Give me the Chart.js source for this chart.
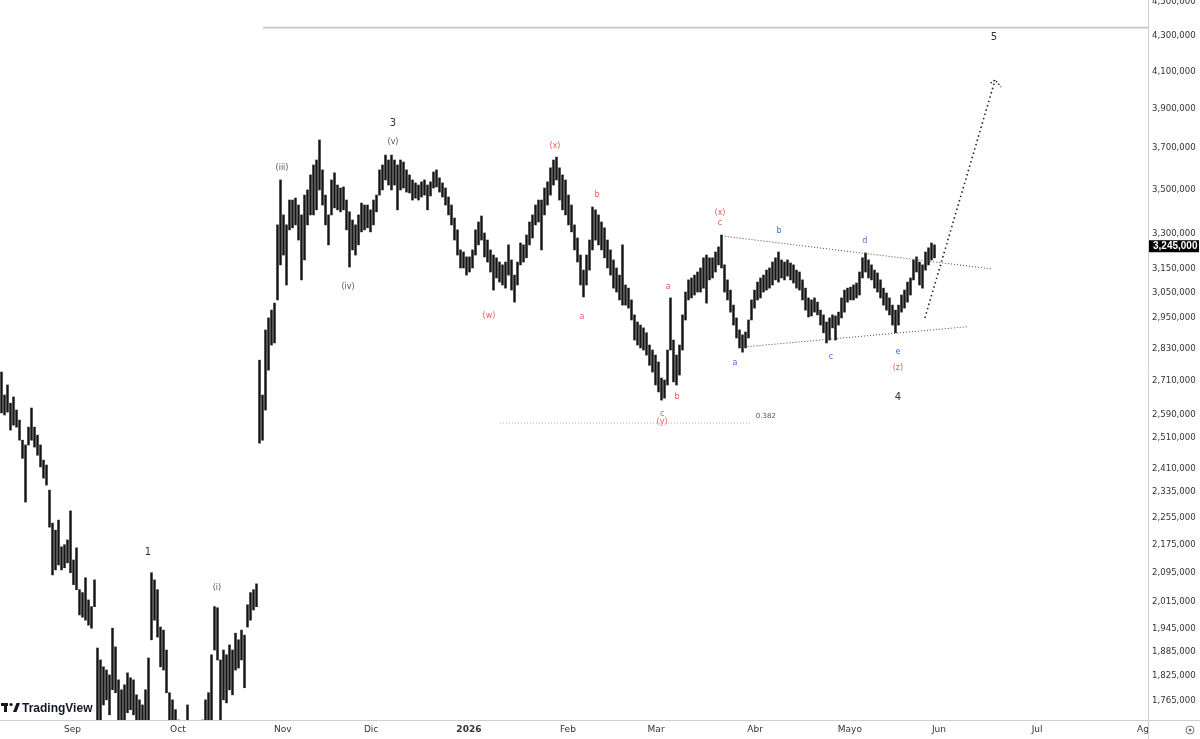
<!DOCTYPE html>
<html>
<head>
<meta charset="utf-8">
<title>Elliott wave count</title>
<script src="https://cdn.jsdelivr.net/npm/chart.js@4.4.1/dist/chart.umd.min.js"></script>
<style>
  html, body { margin: 0; padding: 0; background: #fff; }
  #wrap { width: 1200px; height: 739px; position: relative; }
</style>
</head>
<body>
<div id="wrap"><canvas id="chart"></canvas></div>
<script>
// bar highs / lows in thousands, one bar per slot
const priceHigh = [
  2742, 2659, 2695, 2630, 2652, 2606, 2571, 2503, 2487, 2547,
  2613, 2547, 2520, 2487, 2437, 2421, 2341, 2240, 2219, 2249,
  2170, 2176, 2190, 2277, 2132, 2167, 2049, 2041, 2082, 2021,
  2003, 2076, 1895, 1865, 1848, 1840, 1828, 1946, 1898, 1816,
  1792, 1804, 1833, 1821, 1816, 1780, 1768, 1756, 1792, 1870,
  2096, 2076, 2049, 1949, 1941, 1890, 1785, 1768, 1745, 1721,
  1698, 1710, 1756, 1687, 1665, 1698, 1710, 1721, 1768, 1785,
  1878, 2003, 2000, 1865, 1890, 1878, 1903, 1890, 1933, 1916,
  1941, 1928, 2008, 2041, 2049, 2065, 2786, 2659, 2901, 2948,
  2979, 3007, 3339, 3546, 3384, 3339, 3452, 3452, 3461, 3429,
  3384, 3475, 3499, 3570, 3618, 3642, 3741, 3594, 3475, 3384,
  3546, 3580, 3522, 3508, 3513, 3452, 3398, 3361, 3339, 3384,
  3438, 3429, 3429, 3407, 3452, 3475, 3594, 3618, 3666, 3642,
  3666, 3642, 3618, 3642, 3632, 3594, 3570, 3546, 3532, 3522,
  3537, 3546, 3522, 3537, 3584, 3594, 3556, 3532, 3508, 3466,
  3429, 3370, 3317, 3229, 3220, 3199, 3199, 3229, 3317, 3352,
  3379, 3303, 3272, 3229, 3207, 3195, 3177, 3165, 3177, 3251,
  3186, 3122, 3177, 3259, 3251, 3294, 3352, 3384, 3429, 3452,
  3452, 3508, 3537, 3604, 3642, 3656, 3604, 3570, 3546, 3475,
  3429, 3339, 3281, 3207, 3143, 3207, 3272, 3420, 3407, 3384,
  3352, 3326, 3272, 3229, 3186, 3152, 3122, 3251, 3081, 3068,
  3020, 2960, 2932, 2920, 2909, 2890, 2843, 2824, 2805, 2779,
  2720, 2713, 2824, 3028, 2862, 2805, 2843, 2960, 3052, 3102,
  3110, 3122, 3135, 3152, 3195, 3207, 3195, 3195, 3220, 3242,
  3294, 3165, 3102, 3060, 2999, 2948, 2901, 2882, 2893, 2940,
  3020, 3060, 3093, 3110, 3122, 3143, 3152, 3177, 3195, 3220,
  3186, 3177, 3186, 3173, 3165, 3143, 3135, 3102, 3068, 3028,
  3020, 3028, 3011, 2979, 2960, 2932, 2948, 2960, 2956, 2971,
  3028, 3060, 3068, 3072, 3081, 3089, 3135, 3195, 3216, 3186,
  3165, 3143, 3131, 3102, 3068, 3048, 3028, 2999, 2979, 2999,
  3040, 3060, 3093, 3110, 3186, 3199, 3177, 3165, 3220, 3238,
  3259, 3251
];
const priceLow = [
  2596, 2589, 2599, 2537, 2554, 2547, 2503, 2443, 2304, 2487,
  2503, 2480, 2453, 2415, 2379, 2357, 2228, 2090, 2104, 2118,
  2104, 2110, 2124, 2096, 2063, 2049, 1981, 1975, 1967, 1954,
  1946, 2003, 1676, 1721, 1756, 1768, 1733, 1792, 1785, 1721,
  1698, 1710, 1738, 1745, 1733, 1687, 1676, 1665, 1676, 1721,
  1916, 1967, 1923, 1848, 1840, 1785, 1698, 1676, 1632, 1611,
  1590, 1611, 1643, 1590, 1569, 1600, 1611, 1621, 1654, 1698,
  1721, 1890, 1865, 1721, 1768, 1761, 1792, 1780, 1840, 1845,
  1865, 1797, 1949, 1967, 1994, 2003, 2493, 2503, 2606, 2749,
  2843, 2851, 3020, 3165, 3207, 3081, 3317, 3326, 3339, 3272,
  3102, 3186, 3339, 3384, 3384, 3407, 3499, 3429, 3339, 3251,
  3384, 3416, 3407, 3398, 3407, 3317, 3156, 3229, 3207, 3251,
  3308, 3317, 3326, 3308, 3339, 3398, 3475, 3499, 3546, 3522,
  3499, 3522, 3407, 3499, 3508, 3489, 3485, 3452, 3461, 3452,
  3466, 3475, 3407, 3471, 3508, 3513, 3489, 3466, 3429, 3384,
  3339, 3272, 3207, 3152, 3152, 3122, 3135, 3152, 3207, 3251,
  3272, 3199, 3177, 3135, 3060, 3110, 3093, 3081, 3068, 3122,
  3060, 3011, 3081, 3165, 3177, 3195, 3251, 3281, 3339, 3352,
  3229, 3384, 3429, 3475, 3522, 3546, 3452, 3407, 3384, 3339,
  3308, 3229, 3177, 3081, 3032, 3081, 3143, 3229, 3272, 3251,
  3229, 3195, 3152, 3122, 3068, 3052, 3020, 2999, 2999, 2987,
  2940, 2862, 2843, 2832, 2824, 2805, 2767, 2742, 2695, 2670,
  2641, 2648, 2695, 2824, 2706, 2695, 2731, 2824, 2940, 3020,
  3028, 3040, 3052, 3052, 3068, 3007, 3102, 3110, 3135, 3165,
  3152, 3052, 3020, 2971, 2920, 2870, 2832, 2816, 2832, 2870,
  2940, 2987, 3020, 3028, 3052, 3060, 3068, 3081, 3102, 3093,
  3110, 3102, 3118, 3102, 3089, 3068, 3060, 3020, 2979, 2952,
  2956, 2971, 2960, 2920, 2890, 2851, 2862, 2909, 2862, 2920,
  2948, 2971, 3011, 3020, 3020, 3028, 3040, 3110, 3135, 3110,
  3102, 3068, 3052, 3028, 2999, 2979, 2960, 2920, 2890, 2920,
  2971, 2987, 3011, 3040, 3102, 3135, 3081, 3068, 3143, 3165,
  3186, 3195
];
const lastPrice = 3245;

// time axis (bar slots) and price axis ticks
const monthLabels = ['Sep', 'Oct', 'Nov', 'Dic', '2026', 'Feb', 'Mar', 'Abr', 'Mayo', 'Jun', 'Jul', 'Ag'];
const monthPos = [23.7, 58.8, 93.8, 123.2, 155.8, 188.8, 218.2, 251.2, 282.8, 312.5, 345.2, 380.5];
const yTicks = [4500, 4300, 4100, 3900, 3700, 3500, 3300, 3150, 3050, 2950, 2830, 2710, 2590,
  2510, 2410, 2335, 2255, 2175, 2095, 2015, 1945, 1885, 1825, 1765];

// drawings: [slot, price in thousands]
const topRay = [[87.2, 4348], [382.2, 4348]];
const triangleUpper = [[240.1, 3290], [330.1, 3148]];
const triangleLower = [[246.7, 2835], [322.3, 2914]];
const projection = [[307.8, 2948], [331.2, 4054]];
const projectionHead = [[329.7, 4037], [331.2, 4054], [333.2, 4016]];
const fibLine = [[166.2, 2561], [250.2, 2561]];

const RED = '#ef5b5b', BLUE = '#3d6fe0', DARK = '#333333', GRAY = '#555555';
const waveLabels = [
  ['1', 48.8, 2153, DARK, 10], ['(i)', 71.8, 2055, GRAY, 8],
  ['(iii)', 93.5, 3604, GRAY, 8], ['(iv)', 115.5, 3073, GRAY, 8],
  ['3', 130.5, 3827, DARK, 10], ['(v)', 130.5, 3731, GRAY, 8],
  ['(w)', 162.5, 2956, RED, 8], ['(x)', 184.5, 3711, RED, 8],
  ['b', 198.5, 3475, RED, 8], ['a', 193.5, 2952, RED, 8],
  ['a', 222.2, 3073, RED, 8], ['b', 225.2, 2652, RED, 8],
  ['c', 220.2, 2592, RED, 8], ['(y)', 220.2, 2564, RED, 8],
  ['(x)', 239.5, 3393, RED, 8], ['c', 239.5, 3348, RED, 8],
  ['b', 259.2, 3312, BLUE, 8], ['a', 244.5, 2775, BLUE, 8],
  ['c', 276.5, 2797, BLUE, 8], ['d', 287.8, 3268, BLUE, 8],
  ['e', 298.8, 2816, BLUE, 8], ['(z)', 298.8, 2756, RED, 8],
  ['4', 298.8, 2652, DARK, 10], ['5', 330.8, 4294, DARK, 10],
  ['0.382', 254.8, 2585, GRAY, 7]
];

const K = 1000;
const pts = arr => arr.map(([a, b]) => ({ x: a, y: b * K }));
const dotted = (arr, color, dash, width) => ({
  type: 'line', data: pts(arr), borderColor: color, borderWidth: width,
  borderDash: dash, pointRadius: 0, fill: false, order: 1, tension: 0
});

const overlay = {
  id: 'overlay',
  afterDatasetsDraw(chart) {
    const { ctx, scales: { x, y } } = chart;
    ctx.save();
    ctx.textAlign = 'center';
    ctx.textBaseline = 'middle';
    waveLabels.forEach(([t, i, p, c, s]) => {
      ctx.font = s + 'px "DejaVu Sans"';
      ctx.fillStyle = c;
      ctx.fillText(t, x.getPixelForValue(i), y.getPixelForValue(p * K));
    });
    ctx.restore();
  },
  afterDraw(chart) {
    const { ctx, chartArea, scales: { y } } = chart;
    ctx.save();
    // axis lines
    ctx.strokeStyle = '#cfcfcf';
    ctx.lineWidth = 1;
    ctx.beginPath();
    ctx.moveTo(chartArea.right + 0.5, 0);
    ctx.lineTo(chartArea.right + 0.5, chart.height);
    ctx.moveTo(0, chartArea.bottom + 0.5);
    ctx.lineTo(chart.width, chartArea.bottom + 0.5);
    ctx.stroke();
    // last price tag
    const py = y.getPixelForValue(lastPrice * K);
    ctx.fillStyle = '#000';
    ctx.fillRect(chartArea.right + 1, py - 6, chart.width - chartArea.right - 2, 12);
    ctx.fillStyle = '#fff';
    ctx.font = 'bold 10px "Liberation Sans"';
    ctx.textBaseline = 'middle';
    ctx.fillText((lastPrice * K).toLocaleString('en-US'), chartArea.right + 5, py + 0.5);
    // settings icon
    ctx.strokeStyle = '#777';
    ctx.beginPath();
    ctx.arc(1190, 730, 4, 0, Math.PI * 2);
    ctx.stroke();
    ctx.fillStyle = '#777';
    ctx.beginPath();
    ctx.arc(1190, 730, 1.5, 0, Math.PI * 2);
    ctx.fill();
    // logo
    ctx.fillStyle = '#131722';
    ctx.fillRect(1, 703, 7, 3);
    ctx.fillRect(4, 703, 3, 9);
    ctx.beginPath();
    ctx.arc(11, 704.5, 1.6, 0, Math.PI * 2);
    ctx.fill();
    ctx.beginPath();
    ctx.moveTo(13, 712); ctx.lineTo(16.5, 703); ctx.lineTo(20, 703); ctx.lineTo(16.5, 712);
    ctx.closePath();
    ctx.fill();
    ctx.font = 'bold 12px "Liberation Sans"';
    ctx.textBaseline = 'alphabetic';
    ctx.fillText('TradingView', 22, 712);
    ctx.restore();
  }
};

new Chart(document.getElementById('chart'), {
  type: 'bar',
  data: {
    datasets: [
      {
        type: 'bar',
        data: priceHigh.map((h, i) => ({ x: i, y: [priceLow[i] * K, h * K] })),
        backgroundColor: '#151515',
        barThickness: 1.8,
        order: 2
      },
      dotted(topRay, '#c6c6c6', [], 1.6),
      dotted(fibLine, '#aaaaaa', [1, 2], 1),
      dotted(triangleUpper, '#444', [1, 2], 1),
      dotted(triangleLower, '#444', [1, 2], 1),
      dotted(projection, '#222', [1.5, 3], 1.6),
      dotted(projectionHead, '#222', [1.5, 2], 1.4)
    ]
  },
  options: {
    responsive: true,
    maintainAspectRatio: false,
    animation: false,
    layout: { padding: 0 },
    plugins: { legend: { display: false }, tooltip: { enabled: false } },
    scales: {
      x: {
        type: 'linear',
        min: -0.5,
        max: 382.17,
        offset: false,
        grid: { display: false, drawTicks: false },
        border: { display: false },
        afterBuildTicks: s => { s.ticks = monthPos.map(v => ({ value: v })); },
        afterFit: s => { s.height = 19; s.paddingLeft = 0; s.paddingRight = 0; },
        ticks: {
          autoSkip: false,
          maxRotation: 0,
          padding: 4,
          color: '#333',
          font: c => ({ family: 'DejaVu Sans', size: 9, weight: c.tick && c.tick.label === '2026' ? 'bold' : 'normal' }),
          callback: (v, i) => monthLabels[i]
        }
      },
      y: {
        type: 'logarithmic',
        position: 'right',
        min: 1721 * K,
        max: 4512 * K,
        grid: { display: false, drawTicks: false },
        border: { display: false },
        afterBuildTicks: s => { s.ticks = yTicks.map(v => ({ value: v * K })); },
        afterFit: s => { s.width = 52; s.paddingTop = 0; s.paddingBottom = 0; },
        ticks: {
          autoSkip: false,
          padding: 4,
          color: '#333',
          font: { family: 'DejaVu Sans', size: 8.6 },
          callback: v => Number(v).toLocaleString('en-US')
        }
      }
    }
  },
  plugins: [overlay]
});
</script>
</body>
</html>
